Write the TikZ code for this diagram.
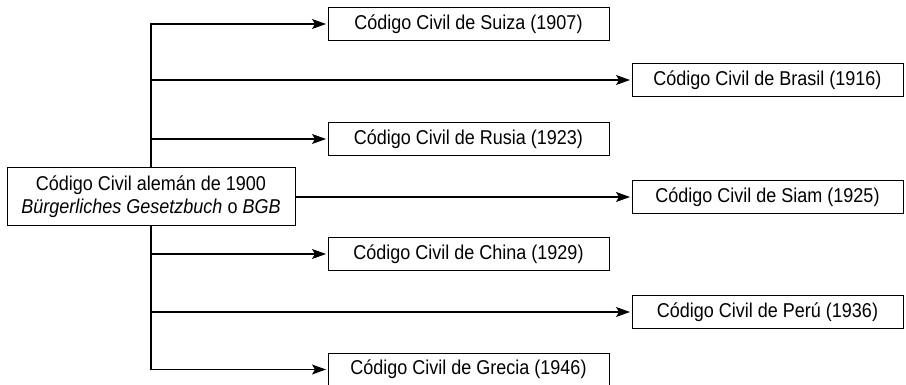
\documentclass[tikz,border=0pt]{standalone}
\usepackage{fontspec}
\setmainfont{Liberation Sans}[FakeStretch=0.9]
\usetikzlibrary{arrows.meta}

\begin{document}
\begin{tikzpicture}
        [x=1pt, y=-1pt,
         every node/.style={
             draw,
             line width=1pt,
             inner sep=0pt,
             font=\fontsize{20}{23}\selectfont
         },
         leftbox/.style={minimum width=281pt, minimum height=33pt},
         rightbox/.style={minimum width=271pt, minimum height=33pt},
         link/.style={
             -{Stealth[length=14pt, width=10pt, inset=3pt]},
             line width=1.1pt,
             shorten >=1.5pt,
             draw
         }
         ]
        \useasboundingbox (0,0) rectangle (906,385);
        \node[minimum width=288pt, minimum height=58pt, align=center] (root) at (151,197)
            {Código Civil alemán de 1900\\ \textit{Bürgerliches Gesetzbuch} o \textit{BGB}};
        \node[leftbox] (suiza) at (468.5,24) {Código Civil de Suiza (1907)};
        \node[rightbox] (brasil) at (767.5,80) {Código Civil de Brasil (1916)};
        \node[leftbox] (rusia) at (468.5,139) {Código Civil de Rusia (1923)};
        \node[rightbox] (siam) at (767.5,197) {Código Civil de Siam (1925)};
        \node[leftbox] (china) at (468.5,254) {Código Civil de China (1929)};
        \node[rightbox] (peru) at (767.5,312) {Código Civil de Perú (1936)};
        \node[leftbox] (grecia) at (468.5,369.5) {Código Civil de Grecia (1946)};
        % ramas
        \draw[link] (root.north) |- (suiza.west);
        \draw[link] (root.north) |- (brasil.west);
        \draw[link] (root.north) |- (rusia.west);
        \draw[link] (root.east) -- (siam.west);
        \draw[link] (root.south) |- (china.west);
        \draw[link] (root.south) |- (peru.west);
        \draw[link] (root.south) |- (grecia.west);
    \end{tikzpicture}
\end{document}
